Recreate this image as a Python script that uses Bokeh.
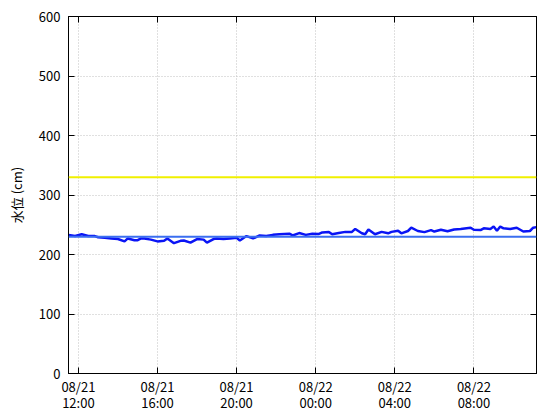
import pandas as pd
from bokeh.plotting import figure
from bokeh.models import (FixedTicker, DatetimeTickFormatter, LinearAxis, DatetimeAxis,
                          Range1d, CustomJSTickFormatter, Span)
from bokeh.embed import file_html
from bokeh.resources import INLINE

# ---- data ----
times = [
    "2023-08-21 11:30", "2023-08-21 11:50", "2023-08-21 12:10", "2023-08-21 12:30",
    "2023-08-21 12:50", "2023-08-21 13:00", "2023-08-21 13:20", "2023-08-21 13:40",
    "2023-08-21 14:00", "2023-08-21 14:20", "2023-08-21 14:30", "2023-08-21 14:50",
    "2023-08-21 15:00", "2023-08-21 15:10", "2023-08-21 15:20", "2023-08-21 15:40",
    "2023-08-21 16:00", "2023-08-21 16:20", "2023-08-21 16:30", "2023-08-21 16:50",
    "2023-08-21 17:10", "2023-08-21 17:20", "2023-08-21 17:40", "2023-08-21 18:00",
    "2023-08-21 18:20", "2023-08-21 18:30", "2023-08-21 18:50", "2023-08-21 19:00",
    "2023-08-21 19:20", "2023-08-21 19:40", "2023-08-21 20:00", "2023-08-21 20:10",
    "2023-08-21 20:30", "2023-08-21 20:50", "2023-08-21 21:10", "2023-08-21 21:30",
    "2023-08-21 21:50", "2023-08-21 22:10", "2023-08-21 22:40", "2023-08-21 22:50",
    "2023-08-21 23:10", "2023-08-21 23:30", "2023-08-21 23:50",
    "2023-08-22 00:10", "2023-08-22 00:20", "2023-08-22 00:40", "2023-08-22 00:50",
    "2023-08-22 01:10", "2023-08-22 01:30", "2023-08-22 01:50", "2023-08-22 02:00",
    "2023-08-22 02:20", "2023-08-22 02:30", "2023-08-22 02:40", "2023-08-22 03:00",
    "2023-08-22 03:20", "2023-08-22 03:40", "2023-08-22 03:50", "2023-08-22 04:10",
    "2023-08-22 04:20", "2023-08-22 04:40", "2023-08-22 04:50", "2023-08-22 05:10",
    "2023-08-22 05:30", "2023-08-22 05:50", "2023-08-22 06:00", "2023-08-22 06:20",
    "2023-08-22 06:40", "2023-08-22 07:00", "2023-08-22 07:20", "2023-08-22 07:50",
    "2023-08-22 08:00", "2023-08-22 08:20", "2023-08-22 08:30", "2023-08-22 08:50",
    "2023-08-22 09:00", "2023-08-22 09:10", "2023-08-22 09:20", "2023-08-22 09:30",
    "2023-08-22 09:50", "2023-08-22 10:10", "2023-08-22 10:30", "2023-08-22 10:50",
    "2023-08-22 11:00", "2023-08-22 11:10",
]
water_level = [
    233, 231, 234, 231, 231, 229, 228, 227,
    226, 222, 227, 224, 224, 227, 227, 225,
    222, 223, 227, 219, 223, 223.5, 220, 226,
    225, 220, 226, 227, 226, 227, 228, 223.5,
    231, 227, 232, 231, 233, 234, 235, 232,
    236, 233, 235,
    234.5, 237, 238, 234, 236, 238, 238, 243,
    235.6, 234, 242, 234, 238, 235.6, 238, 240,
    235.6, 239.5, 245, 239.5, 237.6, 241, 238.6, 241.5,
    239, 242, 243, 245, 241.5, 241, 244, 243,
    247, 240, 247, 244, 243, 245, 238.6, 239.5,
    245, 246,
]
warning_level = 330
reference_level = 230
tick_times = ["2023-08-21 12:00", "2023-08-21 16:00", "2023-08-21 20:00",
              "2023-08-22 00:00", "2023-08-22 04:00", "2023-08-22 08:00"]
y_ticks = [0, 100, 200, 300, 400, 500, 600]
y_label = "水位 (cm)"

# ---- build ----
t = pd.to_datetime(times)
t_ms = [ts.value / 1e6 for ts in t]
tick_ms = [ts.value / 1e6 for ts in pd.to_datetime(tick_times)]

FONT = "Noto Sans CJK JP"

p = figure(width=544, height=414, x_axis_type="datetime",
           output_backend="svg", toolbar_location=None,
           x_range=Range1d(t_ms[0], t_ms[-1]), y_range=Range1d(0, 600),
           min_border_left=68, min_border_right=8, min_border_top=16, min_border_bottom=41)
p.background_fill_color = "white"
p.outline_line_color = "black"
p.outline_line_width = 1

xt = FixedTicker(ticks=tick_ms)
yt = FixedTicker(ticks=y_ticks)
fmt = DatetimeTickFormatter(hours="%m/%d\n%H:%M", days="%m/%d\n%H:%M")

xa = p.xaxis[0]
xa.ticker = xt
xa.formatter = fmt
ya = p.yaxis[0]
ya.ticker = yt
ya.axis_label = y_label
ya.axis_label_text_font = FONT
ya.axis_label_text_font_style = "normal"
ya.axis_label_text_font_size = "13px"
ya.axis_label_text_color = "black"
ya.axis_label_standoff = 10

for ax in (xa, ya):
    ax.major_tick_in = 6
    ax.major_tick_out = 0
    ax.minor_tick_line_color = None
    ax.axis_line_color = "black"
    ax.major_tick_line_color = "black"
    ax.major_label_text_font = FONT
    ax.major_label_text_font_size = "13px"
    ax.major_label_text_color = "black"
xa.major_label_standoff = 3
xa.major_label_text_line_height = 0.85
ya.major_label_standoff = 8

blank = CustomJSTickFormatter(code="return ''")
ra = LinearAxis(ticker=yt, formatter=blank, major_tick_in=6, major_tick_out=0,
                minor_tick_line_color=None, major_label_standoff=0,
                major_label_text_font_size="1px", axis_line_color="black")
ta = DatetimeAxis(ticker=xt, formatter=blank, major_tick_in=6, major_tick_out=0,
                  minor_tick_line_color=None, major_label_standoff=0,
                  major_label_text_font_size="1px", axis_line_color="black")
p.add_layout(ra, "right")
p.add_layout(ta, "above")

p.xgrid.ticker = xt
p.ygrid.ticker = yt
for g in (p.xgrid[0], p.ygrid[0]):
    g.grid_line_color = "#c0c0c0"
    g.grid_line_dash = "1 2"
    g.grid_line_width = 1

p.add_layout(Span(location=warning_level, dimension="width",
                  line_color="#f0f000", line_width=2))
p.add_layout(Span(location=reference_level, dimension="width",
                  line_color="#3a6ef0", line_width=2))
p.line(t_ms, water_level, line_color="#0a14f5", line_width=2.5)

open("out.html", "w").write(file_html(p, INLINE))
